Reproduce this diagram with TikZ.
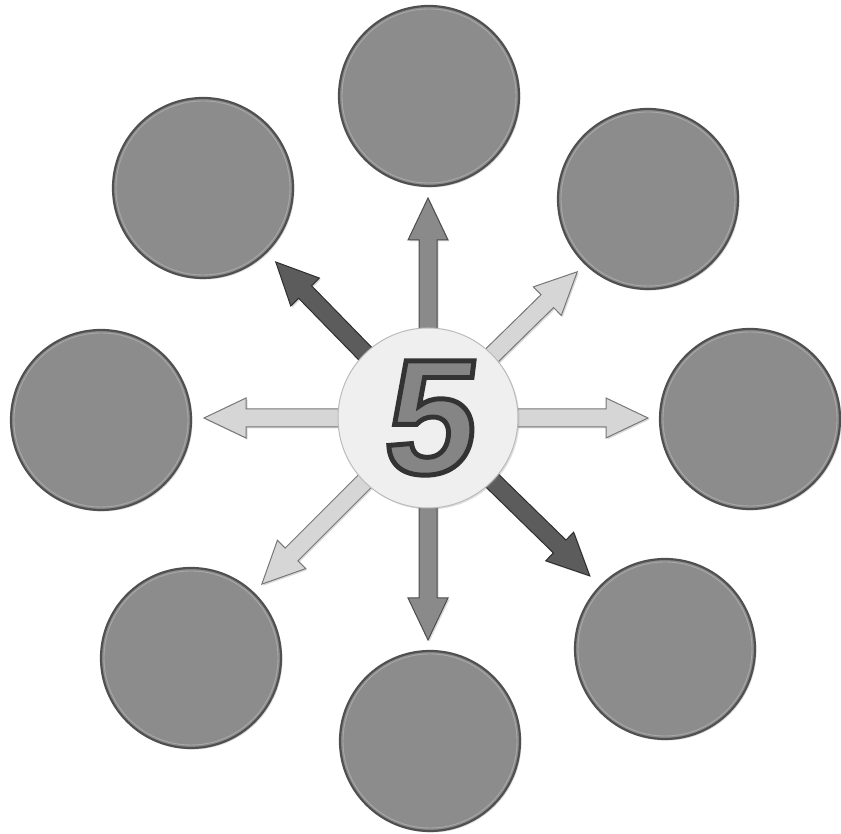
\documentclass[tikz,border=0pt]{standalone}
\usepackage{fontspec}
\usetikzlibrary{shadows,calc}
\newfontfamily\fivefont[FakeSlant=0.12,FakeBold=3]{Liberation Sans Bold}
\definecolor{discfill}{HTML}{8C8C8C}
\definecolor{discedge}{HTML}{505050}
\definecolor{discring}{HTML}{A8A8A8}
\definecolor{arrlight}{HTML}{D6D6D6}
\definecolor{arrlightedge}{HTML}{777777}
\definecolor{arrmid}{HTML}{8A8A8A}
\definecolor{arrmidedge}{HTML}{4C4C4C}
\definecolor{arrdark}{HTML}{5C5C5C}
\definecolor{arrdarkedge}{HTML}{2E2E2E}
\definecolor{hubfill}{HTML}{EFEFEF}
\definecolor{hubedge}{HTML}{BBBBBB}
\definecolor{fiveedge}{HTML}{333333}
\definecolor{fivefill}{HTML}{858585}
\begin{document}
\begin{tikzpicture}[x=1pt,y=1pt,
  disc/.style={circle, minimum size=180pt, inner sep=0pt, fill=discfill, draw=discedge, line width=2.2pt,
    drop shadow={opacity=0.3, shadow xshift=1.5pt, shadow yshift=-1.5pt}},
  ring/.style={draw=discring, line width=0.9pt},
  hub/.style={circle, minimum size=180pt, inner sep=0pt, fill=hubfill, draw=hubedge, line width=1pt,
    drop shadow={opacity=0.25, shadow xshift=1.5pt, shadow yshift=-1.5pt}},
  lightarrow/.style={fill=arrlight, draw=arrlightedge, line width=1pt, line join=miter,
    drop shadow={opacity=0.3, shadow xshift=1.5pt, shadow yshift=-1.5pt}},
  midarrow/.style={fill=arrmid, draw=arrmidedge, line width=1pt, line join=miter,
    drop shadow={opacity=0.3, shadow xshift=1.5pt, shadow yshift=-1.5pt}},
  darkarrow/.style={fill=arrdark, draw=arrdarkedge, line width=1pt, line join=miter,
    drop shadow={opacity=0.3, shadow xshift=1.5pt, shadow yshift=-1.5pt}},
  fivetext/.style={inner sep=0pt, text=fivefill, font=\fivefont\fontsize{164}{164}\selectfont}
]
\useasboundingbox (0,0) rectangle (841,834);
\newcommand\spoke[3]{%
  \begin{scope}[shift={(c)},rotate=#1]
    \draw[#3] (60,-9) -- ({#2-42},-9) -- ({#2-42},-20) -- (#2,0) -- ({#2-42},20) -- ({#2-42},9) -- (60,9) -- cycle;
  \end{scope}}
% outer discs
\node[disc] (o1) at (429,738) {};
\node[disc] (o2) at (648,635) {};
\node[disc] (o3) at (750,415) {};
\node[disc] (o4) at (665,185) {};
\node[disc] (o5) at (430,93) {};
\node[disc] (o6) at (191,176) {};
\node[disc] (o7) at (101,414) {};
\node[disc] (o8) at (203,646) {};
\foreach \n in {o1,o2,o3,o4,o5,o6,o7,o8} \draw[ring] (\n) circle (87);
% centre
\coordinate (c) at (428,416);
\spoke{90}{220}{midarrow}
\spoke{44.4}{209}{lightarrow}
\spoke{0}{220}{lightarrow}
\spoke{-44.3}{226}{darkarrow}
\spoke{-90}{222}{midarrow}
\spoke{-135}{235}{lightarrow}
\spoke{180}{224}{lightarrow}
\spoke{134.3}{218}{darkarrow}
\node[hub] (hub) at (c) {};
% the numeral: filled grey, stroked dark
\node[fivetext] (five) at ($(c)+(-2,0)$) {\pgfsetstrokecolor{fiveedge}5};
\end{tikzpicture}
\end{document}
